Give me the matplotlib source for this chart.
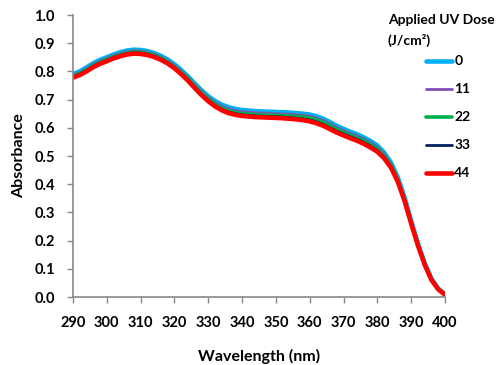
import numpy as np
import matplotlib
matplotlib.use('Agg')
import matplotlib.pyplot as plt

# Absorbance spectra for each applied UV dose (J/cm2)
wavelength = list(range(290, 401, 2))

dose_labels = ['0', '11', '22', '33', '44']
dose_colors = ['#00B0F0', '#7F4FB3', '#00B050', '#002060', '#FF0000']

abs_0 = [0.790, 0.800, 0.814, 0.829, 0.841, 0.850, 0.860, 0.868, 0.874, 0.877,
         0.876, 0.872, 0.865, 0.855, 0.842, 0.825, 0.805, 0.782, 0.757, 0.733,
         0.712, 0.695, 0.682, 0.673, 0.667, 0.663, 0.661, 0.659, 0.658, 0.657,
         0.656, 0.655, 0.654, 0.652, 0.650, 0.647, 0.641, 0.632, 0.620, 0.607,
         0.596, 0.586, 0.577, 0.566, 0.553, 0.537, 0.512, 0.477, 0.425, 0.355,
         0.270, 0.190, 0.120, 0.065, 0.030, 0.010]
abs_11 = [0.786, 0.796, 0.810, 0.825, 0.837, 0.846, 0.856, 0.864, 0.870, 0.873,
          0.872, 0.868, 0.861, 0.851, 0.838, 0.821, 0.801, 0.778, 0.752, 0.728,
          0.707, 0.689, 0.676, 0.667, 0.661, 0.657, 0.655, 0.653, 0.652, 0.651,
          0.650, 0.649, 0.648, 0.646, 0.644, 0.641, 0.635, 0.626, 0.614, 0.601,
          0.590, 0.580, 0.571, 0.560, 0.547, 0.531, 0.507, 0.472, 0.421, 0.351,
          0.267, 0.188, 0.118, 0.064, 0.029, 0.009]
abs_22 = [0.783, 0.793, 0.806, 0.821, 0.833, 0.842, 0.852, 0.860, 0.866, 0.869,
          0.868, 0.864, 0.857, 0.847, 0.834, 0.817, 0.797, 0.774, 0.748, 0.723,
          0.702, 0.684, 0.670, 0.661, 0.655, 0.651, 0.649, 0.647, 0.646, 0.645,
          0.644, 0.643, 0.642, 0.640, 0.638, 0.635, 0.629, 0.620, 0.608, 0.595,
          0.584, 0.574, 0.565, 0.554, 0.541, 0.525, 0.501, 0.467, 0.416, 0.347,
          0.264, 0.186, 0.117, 0.063, 0.028, 0.009]
abs_33 = [0.780, 0.790, 0.803, 0.818, 0.830, 0.839, 0.849, 0.857, 0.863, 0.866,
          0.865, 0.861, 0.854, 0.844, 0.831, 0.814, 0.793, 0.770, 0.744, 0.719,
          0.697, 0.679, 0.665, 0.656, 0.650, 0.646, 0.644, 0.642, 0.641, 0.640,
          0.639, 0.638, 0.636, 0.634, 0.631, 0.628, 0.621, 0.612, 0.600, 0.588,
          0.578, 0.568, 0.559, 0.548, 0.535, 0.519, 0.496, 0.463, 0.413, 0.344,
          0.262, 0.184, 0.115, 0.061, 0.027, 0.008]
abs_44 = [0.778, 0.787, 0.800, 0.815, 0.827, 0.836, 0.846, 0.854, 0.860, 0.863,
          0.862, 0.858, 0.851, 0.841, 0.828, 0.811, 0.790, 0.767, 0.741, 0.716,
          0.694, 0.676, 0.662, 0.652, 0.646, 0.642, 0.640, 0.638, 0.637, 0.636,
          0.635, 0.634, 0.632, 0.630, 0.627, 0.623, 0.616, 0.607, 0.595, 0.583,
          0.573, 0.563, 0.554, 0.543, 0.530, 0.515, 0.492, 0.459, 0.410, 0.342,
          0.260, 0.182, 0.114, 0.060, 0.027, 0.008]

x_ticks = list(range(290, 401, 10))
y_ticks = [0.0, 0.1, 0.2, 0.3, 0.4, 0.5, 0.6, 0.7, 0.8, 0.9, 1.0]

plt.rcParams['font.family'] = ['Lato', 'DejaVu Sans']
plt.rcParams['font.weight'] = 'bold'

fig = plt.figure(figsize=(4.98, 3.65), dpi=100)
ax = fig.add_subplot(111)
fig.subplots_adjust(left=0.1466, right=0.8936, top=0.9589, bottom=0.1863)

series = [abs_0, abs_11, abs_22, abs_33, abs_44]
widths = [3.3, 2.0, 2.6, 2.0, 3.3]
for vals, lab, col, lw in zip(series, dose_labels, dose_colors, widths):
    ax.plot(wavelength, vals, color=col, lw=lw, label=lab, solid_capstyle='round')

ax.set_xlim(290, 400)
ax.set_ylim(0, 1.0)
ax.set_xticks(x_ticks)
ax.set_yticks(y_ticks)
ax.set_yticklabels(['%.1f' % v for v in y_ticks])
ax.tick_params(direction='out', length=4, width=1, color='#888888',
               labelsize=10.5)
ax.tick_params(axis='y', pad=9)
ax.tick_params(axis='x', pad=10)
for s in ['top', 'right']:
    ax.spines[s].set_visible(False)
for s in ['left', 'bottom']:
    ax.spines[s].set_color('#888888')
    ax.spines[s].set_linewidth(1.2)

ax.set_xlabel('Wavelength (nm)', fontsize=11.5, fontweight='bold', labelpad=13)
ax.set_ylabel('Absorbance', fontsize=11.5, fontweight='bold', labelpad=6)

# legend title drawn as two lines of figure text
fig.text(0.779, 1 - 20 / 365, 'Applied UV Dose', fontsize=10,
         fontweight='bold', ha='left', va='center')
fig.text(0.779, 1 - 40 / 365, '(J/cm\u00b2)', fontsize=10,
         fontweight='bold', ha='left', va='center')

leg = ax.legend(loc='upper left', bbox_to_anchor=(0.855, 0.848),
                bbox_transform=fig.transFigure, frameon=False,
                prop={'size': 10, 'weight': 'bold'}, handlelength=1.9,
                handletextpad=0.15, labelspacing=1.15, borderpad=0,
                borderaxespad=0)

fig.savefig('out.png', dpi=100)
